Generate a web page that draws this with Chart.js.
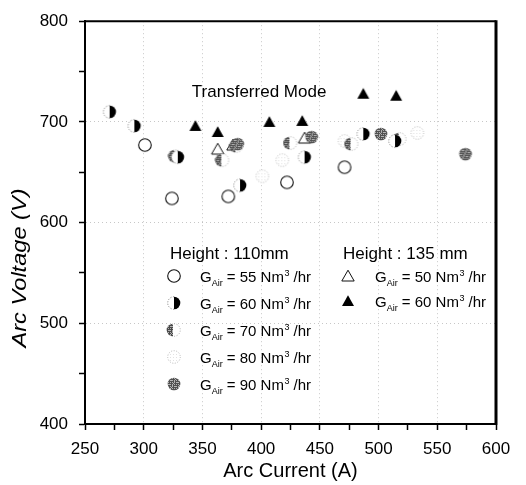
<!DOCTYPE html>
<html><head><meta charset="utf-8">
<script src="https://cdn.jsdelivr.net/npm/chart.js@4.4.1/dist/chart.umd.min.js"></script>
<style>html,body{margin:0;padding:0;background:#fff;}#wrap{width:526px;height:485px;position:relative;}</style>
</head><body><div id="wrap"><canvas id="c" width="526" height="485"></canvas></div>
<script>
// ---- data ----
const xTickLabels = [250, 300, 350, 400, 450, 500, 550, 600];
const yTickLabels = [400, 500, 600, 700, 800];

// Height 110 mm
const cur110_55 = [301, 324, 372, 422, 471];
const volt110_55 = [677, 624, 626, 640, 655];
const cur110_60 = [271, 292, 329, 382, 437, 487, 514];
const volt110_60 = [710, 696, 665, 637, 665, 688, 681];
const cur110_70 = [327, 367, 379, 425, 477, 518];
const volt110_70 = [666, 662, 676, 679, 678, 683];
const cur110_80 = [401, 418, 471, 533];
const volt110_80 = [646, 662, 681, 689];
const cur110_90 = [380, 443, 502, 574];
const volt110_90 = [678, 685, 688, 668];
// Height 135 mm
const cur135_50 = [363, 376, 437];
const volt135_50 = [673, 677, 684];
const cur135_60 = [344, 363, 407, 435, 487, 515];
const volt135_60 = [696, 690, 700, 701, 728, 726];

const annotationText = 'Transferred Mode';
const annotationAt = [341, 729];
const header110 = 'Height : 110mm';
const header135 = 'Height : 135 mm';
const flows110 = ['55', '60', '70', '80', '90'];
const flows135 = ['50', '60'];

const FONT = '"Liberation Sans", Arial, sans-serif';

// ---- marker images ----
function mk(draw) {
  const c = document.createElement('canvas');
  c.width = 16; c.height = 16;
  const g = c.getContext('2d');
  draw(g, 8, 8, 6.3);
  return c;
}
function halfPath(g, cx, cy, r, side) {
  g.beginPath();
  if (side === 'right') g.arc(cx, cy, r, -Math.PI / 2, Math.PI / 2);
  else if (side === 'left') g.arc(cx, cy, r, Math.PI / 2, 3 * Math.PI / 2);
  else g.arc(cx, cy, r, 0, Math.PI * 2);
  g.closePath();
}
function speckle(g, cx, cy, r, side, base, dot) {
  g.save();
  halfPath(g, cx, cy, r, side);
  g.clip();
  g.fillStyle = base;
  g.fillRect(0, 0, 16, 16);
  g.fillStyle = dot;
  for (let i = 0; i < 16; i++) for (let j = 0; j < 16; j++) {
    if ((i % 2 === 0 && j % 2 === 0) || ((i * 3 + j * 5) % 7 === 0)) g.fillRect(i, j, 1, 1);
  }
  g.restore();
}
function dotted(g, cx, cy, r, side, color) {
  g.save();
  g.setLineDash([1, 1.6]);
  g.strokeStyle = color; g.lineWidth = 1;
  g.beginPath();
  if (side === 'left') g.arc(cx, cy, r, Math.PI / 2, 3 * Math.PI / 2);
  else if (side === 'right') g.arc(cx, cy, r, -Math.PI / 2, Math.PI / 2);
  else g.arc(cx, cy, r, 0, Math.PI * 2);
  g.stroke();
  g.restore();
}
const mOpen = mk((g, cx, cy, r) => {
  g.beginPath(); g.arc(cx, cy, r, 0, Math.PI * 2);
  g.fillStyle = '#fff'; g.fill();
  g.strokeStyle = '#111'; g.lineWidth = 1.1; g.stroke();
});
const mHalf = mk((g, cx, cy, r) => {
  g.beginPath(); g.arc(cx, cy, r, 0, Math.PI * 2); g.fillStyle = '#fff'; g.fill();
  dotted(g, cx, cy, r, 'left', '#777');
  halfPath(g, cx, cy, r, 'right'); g.fillStyle = '#000'; g.fill();
});
const m70 = mk((g, cx, cy, r) => {
  g.beginPath(); g.arc(cx, cy, r, 0, Math.PI * 2); g.fillStyle = '#fff'; g.fill();
  speckle(g, cx - 1, cy, r, 'left', '#4a4a4a', '#b0b0b0');
  dotted(g, cx, cy, r, 'right', '#aaa');
});
const m80 = mk((g, cx, cy, r) => {
  g.beginPath(); g.arc(cx, cy, r, 0, Math.PI * 2); g.fillStyle = '#fff'; g.fill();
  dotted(g, cx, cy, r, 'full', '#b5b5b5');
  g.fillStyle = '#e2e2e2';
  for (let i = 4; i < 12; i += 3) for (let j = 5; j < 12; j += 3) g.fillRect(i, j, 1, 1);
});
const m90 = mk((g, cx, cy, r) => {
  speckle(g, cx, cy, r, 'full', '#505050', '#b4b4b4');
});
const mTriOpen = mk((g) => {
  g.beginPath(); g.moveTo(8, 2.2); g.lineTo(14.2, 13); g.lineTo(1.8, 13); g.closePath();
  g.fillStyle = '#fff'; g.fill(); g.strokeStyle = '#111'; g.lineWidth = 1; g.stroke();
});
const mTriFill = mk((g) => {
  g.beginPath(); g.moveTo(8, 2.2); g.lineTo(14, 13); g.lineTo(2, 13); g.closePath();
  g.fillStyle = '#000'; g.fill();
});

function pts(xs, ys) { return xs.map((x, i) => ({ x: x, y: ys[i] })); }
function ds(label, xs, ys, img) {
  return { label, data: pts(xs, ys), pointStyle: img, pointRadius: 7, showLine: false };
}

// ---- plugins ----
const frame = {
  id: 'frame',
  afterDraw(chart) {
    const { ctx, chartArea: a } = chart;
    ctx.save();
    ctx.strokeStyle = '#000';
    ctx.lineWidth = 2;
    ctx.beginPath(); ctx.moveTo(a.left, a.top); ctx.lineTo(a.right, a.top); ctx.stroke();
    ctx.lineWidth = 3;
    ctx.beginPath(); ctx.moveTo(a.right, a.top - 1); ctx.lineTo(a.right, a.bottom + 1); ctx.stroke();
    ctx.restore();
  }
};
function legendEntry(ctx, img, mx, tx, y, flow) {
  ctx.drawImage(img, mx - 8, y - 8);
  const base = y + 5.5;
  let x = tx;
  ctx.fillStyle = '#000';
  ctx.textBaseline = 'alphabetic';
  ctx.textAlign = 'left';
  ctx.font = '15px ' + FONT;
  ctx.fillText('G', x, base); x += ctx.measureText('G').width;
  ctx.font = '9px ' + FONT;
  ctx.fillText('Air', x, base + 4); x += ctx.measureText('Air').width;
  ctx.font = '15px ' + FONT;
  const mid = ' = ' + flow + ' Nm';
  ctx.fillText(mid, x, base); x += ctx.measureText(mid).width;
  ctx.font = '9px ' + FONT;
  ctx.fillText('3', x + 0.5, base - 6); x += ctx.measureText('3').width + 0.5;
  ctx.font = '15px ' + FONT;
  ctx.fillText(' /hr', x, base);
}
const annot = {
  id: 'annot',
  afterDraw(chart) {
    const { ctx } = chart;
    const xs = chart.scales.x, ys = chart.scales.y;
    ctx.save();
    ctx.fillStyle = '#000';
    ctx.font = '17px ' + FONT;
    ctx.textAlign = 'left'; ctx.textBaseline = 'middle';
    ctx.fillText(annotationText, xs.getPixelForValue(annotationAt[0]), ys.getPixelForValue(annotationAt[1]));
    // y axis title
    ctx.save();
    ctx.translate(20, 268);
    ctx.rotate(-Math.PI / 2);
    ctx.scale(1.18, 1);
    ctx.font = 'italic 20px ' + FONT;
    ctx.textAlign = 'center'; ctx.textBaseline = 'middle';
    ctx.fillText('Arc Voltage (V)', 0, 0);
    ctx.restore();
    // legend
    ctx.font = '17px ' + FONT;
    ctx.textAlign = 'left'; ctx.textBaseline = 'middle';
    ctx.fillText(header110, 170, 254);
    ctx.fillText(header135, 343, 254);
    const imgs110 = [mOpen, mHalf, m70, m80, m90];
    const rows110 = [276, 303, 330, 357, 384];
    flows110.forEach((f, i) => legendEntry(ctx, imgs110[i], 174, 200, rows110[i], f));
    const imgs135 = [mTriOpen, mTriFill];
    const rows135 = [276, 301];
    flows135.forEach((f, i) => legendEntry(ctx, imgs135[i], 348, 375, rows135[i], f));
    ctx.restore();
  }
};

function gridColor(c, lo, hi, step) {
  if (!c.tick) return 'rgba(0,0,0,0)';
  const v = c.tick.value;
  return (v % step === 0 && v > lo && v < hi) ? 'rgba(0,0,0,0.22)' : 'rgba(0,0,0,0)';
}

new Chart(document.getElementById('c'), {
  type: 'scatter',
  data: {
    datasets: [
      ds('H135 G60', cur135_60, volt135_60, mTriFill),
      ds('H110 G60', cur110_60, volt110_60, mHalf),
      ds('H110 G90', cur110_90, volt110_90, m90),
      ds('H110 G70', cur110_70, volt110_70, m70),
      ds('H135 G50', cur135_50, volt135_50, mTriOpen),
      ds('H110 G55', cur110_55, volt110_55, mOpen),
      ds('H110 G80', cur110_80, volt110_80, m80)
    ]
  },
  options: {
    responsive: false,
    animation: false,
    events: [],
    layout: { padding: { top: 16, right: 30, left: 0, bottom: 0 } },
    plugins: { legend: { display: false }, tooltip: { enabled: false } },
    scales: {
      x: {
        type: 'linear', min: xTickLabels[0], max: xTickLabels[xTickLabels.length - 1],
        ticks: {
          stepSize: 25, autoSkip: false, maxRotation: 0, padding: 9, color: '#000',
          font: { family: FONT, size: 17 },
          callback: v => (xTickLabels.includes(v) ? String(v) : '')
        },
        grid: { color: c => gridColor(c, 250, 600, 50), tickColor: '#000', tickLength: 6, tickWidth: 1.5, lineWidth: 1 },
        border: { color: '#000', width: 2, dash: [1, 3] },
        title: { display: true, text: 'Arc Current (A)', color: '#000', font: { family: FONT, size: 20 }, padding: { top: 0, bottom: 2 } },
        afterFit: s => { s.height = 61; }
      },
      y: {
        type: 'linear', min: yTickLabels[0], max: yTickLabels[yTickLabels.length - 1],
        ticks: {
          stepSize: 50, autoSkip: false, padding: 11, color: '#000',
          font: { family: FONT, size: 17 },
          callback: v => (yTickLabels.includes(v) ? String(v) : '')
        },
        grid: { color: c => gridColor(c, 400, 800, 100), tickColor: '#000', tickLength: 6, tickWidth: 1.5, lineWidth: 1 },
        border: { color: '#000', width: 2, dash: [1, 3] },
        afterFit: s => { s.width = 85; }
      }
    }
  },
  plugins: [frame, annot]
});
</script></body></html>
